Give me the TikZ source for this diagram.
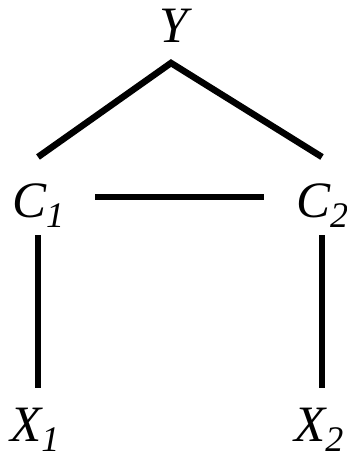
\documentclass[tikz,border=0pt]{standalone}
\usepackage{fontspec}
\setmainfont{Liberation Serif}
\begin{document}
\begin{tikzpicture}[x=1pt,y=-1pt,
  lbl/.style={inner sep=0pt,anchor=base west,font=\fontsize{51}{51}\selectfont\itshape},
  edge/.style={line width=6.5pt,black}]
\useasboundingbox (0,0) rectangle (347,460);
\newcommand{\sbs}[1]{\raisebox{-10pt}{\fontsize{36}{36}\selectfont\itshape #1}}
\node[lbl] (Y) at (159,42) {Y};
\node[lbl] (C1) at (12,217) {C\sbs{1}};
\node[lbl] (C2) at (296,217) {C\sbs{2}};
\node[lbl] (X1) at (10,441) {X\sbs{1}};
\node[lbl] (X2) at (294,441) {X\sbs{2}};
\coordinate (ya) at (171,63);
\coordinate (c1u) at (38,157);
\coordinate (c2u) at (322,157);
\coordinate (c1r) at (95,197);
\coordinate (c2l) at (264,197);
\coordinate (c1d) at (38,235);
\coordinate (c2d) at (322,235);
\coordinate (x1u) at (38,388);
\coordinate (x2u) at (322,388);
\draw[edge] (c1u) -- (ya) -- (c2u);
\draw[edge] (c1r) -- (c2l);
\draw[edge] (c1d) -- (x1u);
\draw[edge] (c2d) -- (x2u);
\end{tikzpicture}
\end{document}
